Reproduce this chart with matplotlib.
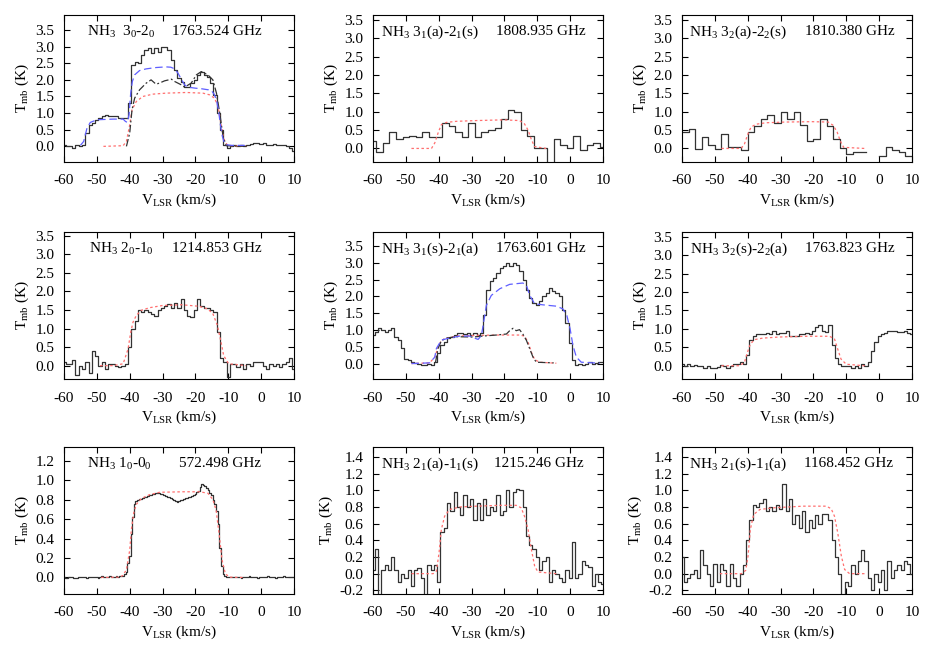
import numpy as np
import matplotlib
matplotlib.use('Agg')
import matplotlib.pyplot as plt
from matplotlib.ticker import FormatStrFormatter, MultipleLocator

plt.rcParams['font.family'] = ['Liberation Serif', 'DejaVu Serif']
plt.rcParams['mathtext.fontset'] = 'custom'
plt.rcParams['mathtext.rm'] = 'Liberation Serif'
plt.rcParams['mathtext.it'] = 'Liberation Serif:italic'
plt.rcParams['axes.unicode_minus'] = False
plt.rcParams['font.size'] = 11

# ---------------- observed spectra (channel values) ----------------
# 1 km/s channels, centres -60 ... 10
t_30_20 = [0.03, 0.0, 0.0, -0.05, 0.05, 0.0, 0.05,
           0.4, 0.65, 0.7, 0.8, 0.85, 0.9, 0.95, 0.9, 0.92, 0.9, 0.85, 0.85, 0.85,
           1.3, 2.45, 2.55, 2.5, 2.75, 2.9, 2.95, 2.8, 2.95, 2.85, 3.0, 2.98, 2.9, 2.6, 2.3,
           2.05, 1.95, 1.8, 1.8, 1.9, 2.0, 2.15, 2.25, 2.15, 2.1, 1.9, 1.55, 1.0, 0.5, 0.05,
           -0.05, 0.0, 0.05, 0.0, 0.05, 0.0, 0.05, 0.08, 0.1, 0.1, 0.08, 0.1, 0.05, 0.05,
           0.08, 0.05, 0.03, 0.05, 0.0, -0.05, -0.15]
# 2 km/s channels, centres -60 ... 10
t_31a_21s = [0.2, -0.1, 0.15, 0.45, 0.25, 0.3, 0.35, 0.3, 0.45, 0.3, 0.3, 0.7, 0.6, 0.45,
             0.3, 0.7, 0.3, 0.45, 0.5, 0.55, 0.8, 1.05, 1.0, 0.5, 0.35, 0.0, 0.0, -0.45,
             0.25, 0.1, 0.0, 0.35, -0.05, 0.1, 0.15, 0.05]
# 2 km/s channels, centres -59 ... 9
t_32a_22s = [0.45, 0.52, -0.02, 0.3, 0.1, -0.02, 0.4, 0.05, 0.03, -0.05, 0.45, 0.6, 0.8,
             0.9, 0.7, 1.0, 0.8, 1.0, 0.65, 0.2, 0.25, 0.8, 0.6, 0.25, 0.0, -0.15, -0.1,
             -0.1, np.nan, np.nan, -0.2, 0.05, -0.05, -0.1, -0.2]
t_20_10 = [0.1, 0.05, 0.05, 0.15, -0.25, 0.0, -0.1, 0.1, -0.2, 0.4, 0.25, 0.0, 0.1, -0.1,
           0.05, 0.05, 0.0, -0.05, 0.0,
           0.05, 0.5, 1.0, 1.2, 1.5, 1.45, 1.5, 1.45, 1.4, 1.35, 1.5, 1.55, 1.6, 1.65, 1.55,
           1.7, 1.55, 1.8, 1.5, 1.35, 1.3, 1.5, 1.8, 1.6, 1.55, 1.55, 1.5, 1.45, 0.9, 0.2,
           0.1, -0.3,
           0.05, 0.05, -0.05, 0.05, -0.1, 0.05, 0.0, 0.1, 0.1, 0.1, 0.0, -0.1, 0.05, 0.0,
           0.05, -0.05, 0.05, 0.1, 0.2, -0.1]
t_31s_21a = [0.85, 0.95, 1.05, 1.0, 0.95, 1.0, 1.05, 0.8, 0.7, 0.45, 0.15, 0.1,
             0.05, 0.02, 0.0, -0.05, -0.03, 0.0, -0.05, 0.05,
             0.3, 0.55, 0.65, 0.75, 0.78, 0.85, 0.9, 0.9, 0.88, 0.9, 0.85, 0.9, 0.85, 0.9,
             1.45, 2.2, 2.45, 2.55, 2.7, 2.85, 2.9, 3.0, 2.9, 3.0, 2.95, 2.75, 2.5, 2.2,
             1.95, 1.8, 1.75, 1.85, 2.0, 2.1, 2.25, 2.15, 2.1, 2.0, 1.6, 1.2,
             0.6, 0.1, -0.05, 0.0, -0.05, 0.0, 0.05, 0.0, 0.03, 0.05, 0.05]
t_32s_22a = [0.05, 0.0, 0.05, 0.0, 0.03, -0.02, 0.0, -0.05, 0.0, -0.05, -0.05, -0.03, 0.03,
             0.0, -0.05, 0.0, 0.05, 0.05, 0.1,
             0.05, 0.3, 0.7, 0.82, 0.85, 0.85, 0.87, 0.9, 0.85, 0.95, 0.85, 0.9, 0.88, 0.95,
             0.8, 0.82, 0.8, 0.85, 0.85, 0.9, 0.85, 0.95, 1.05, 1.1, 0.95, 0.92, 1.1, 0.55,
             0.2, 0.05, 0.0, 0.0, 0.0, -0.05, 0.0, -0.05, 0.05, -0.02, 0.1, 0.4, 0.65, 0.8,
             0.85, 0.9, 0.95, 0.95, 0.93, 0.92, 0.92, 0.95, 0.88, 0.85]
# 0.5 km/s channels, centres -60 ... 10
t_10_00 = [0.0, -0.005, -0.01, 0.0, 0.005, 0.0, -0.005, -0.01, -0.005, 0.0, 0.005, 0.0,
           0.005, 0.0, -0.005, 0.0, 0.005, 0.0, 0.0, 0.005, 0.0, -0.005, 0.005, 0.01, 0.005,
           0.0, 0.005, 0.0, 0.01, 0.005, 0.0, 0.005, 0.01, 0.005,
           0.01, 0.015, 0.02, 0.04, 0.06, 0.15, 0.22, 0.45, 0.62, 0.75, 0.79, 0.8, 0.81,
           0.81, 0.82, 0.83, 0.83, 0.84, 0.85, 0.85, 0.86, 0.86, 0.87, 0.87, 0.87, 0.86,
           0.86, 0.85, 0.84, 0.83, 0.83, 0.82, 0.81, 0.8, 0.79, 0.78, 0.79, 0.8, 0.8, 0.81,
           0.82, 0.82, 0.83, 0.83, 0.84, 0.85, 0.86, 0.88, 0.89, 0.93, 0.96, 0.95, 0.94,
           0.92, 0.9, 0.87, 0.85, 0.8, 0.75, 0.68, 0.55, 0.3, 0.12, 0.04, 0.01,
           0.005, 0.0, 0.005, 0.0, 0.005, 0.0, 0.0, 0.005, 0.0, -0.005, 0.0, 0.005, 0.0,
           0.005, 0.01, 0.005, 0.0, 0.005, 0.0, -0.005, 0.0, 0.005, 0.0, 0.005, 0.0, 0.01,
           0.005, 0.0, 0.005, 0.0, -0.005, 0.0, 0.005, 0.0, 0.005, 0.01, 0.005, 0.0, 0.005,
           0.0, 0.005, 0.0]
t_21a_11s = [0.05, 0.3, -0.3, 0.05, 0.1, 0.05, 0.2, 0.05, -0.1, 0.0, -0.05, 0.05, -0.15,
             0.05, 0.07, -0.05, -0.3, 0.1, 0.05, 0.1,
             -0.1, 0.5, 0.55, 0.85, 0.75, 0.98, 0.8, 0.7, 0.95, 0.8, 0.9, 0.65, 0.85, 0.65,
             0.9, 0.7, 0.8, 0.75, 0.95, 0.7, 0.75, 1.0, 0.8, 0.98, 1.02, 1.0, 0.8, 0.45,
             0.35, 0.3, 0.2,
             0.05, 0.15, 0.2, -0.1, 0.05, 0.0, -0.05, -0.1, 0.05, -0.05, 0.38, -0.05, 0.0,
             0.15, 0.1, 0.08, -0.15, 0.0, -0.1, -0.12]
t_21s_11a = [0.2, -0.1, -0.05, 0.0, 0.05, -0.05, 0.28, 0.1, 0.0, -0.15, 0.12, -0.1, 0.12,
             0.05, -0.15, 0.12, -0.05, -0.15, 0.0, 0.1,
             0.4, 0.65, 0.82, 0.8, 0.85, 0.9, 0.75, 0.8, 0.75, 0.82, 0.78, 1.07, 0.75, 0.9,
             0.6, 0.7, 0.55, 0.75, 0.5, 0.65, 0.55, 0.7, 0.6, 0.72, 0.72, 0.65, 0.4, 0.2,
             0.0, -0.3, -0.1,
             -0.15, 0.1, 0.0, 0.15, 0.28, 0.15, -0.05, -0.2, 0.0, -0.1, 0.05, -0.2, 0.15,
             -0.05, 0.05, 0.1, 0.05, 0.15, 0.12, 0.0]

# ---------------- model curves (v, T) ----------------
red_30_v = [-48, -42, -41, -40, -39.3, -38, -36, -33, -29, -22.8, -17.7, -15.7, -14.2,
            -13.1, -12.1, -11.1, -10.1, -4.5]
red_30_t = [0.0, 0.02, 0.15, 0.65, 1.1, 1.35, 1.5, 1.57, 1.6, 1.62, 1.6, 1.55, 1.45,
            1.2, 0.6, 0.15, 0.02, 0.0]
blue_30_v = [-55, -54, -53, -52, -50, -45, -42, -41.3, -40.7, -40.2, -39.7, -39.2, -38.5,
             -37, -35, -32, -29, -27.5, -26.3, -25.3, -24.3, -23.3, -22.3, -20, -18, -16,
             -15, -14.3, -13.6, -13, -12.4, -11.8, -11.2, -10.5, -9, -5]
blue_30_t = [0.03, 0.15, 0.55, 0.72, 0.8, 0.82, 0.82, 0.75, 0.72, 0.95, 1.6, 1.95, 2.15,
             2.28, 2.33, 2.37, 2.39, 2.38, 2.33, 2.2, 2.02, 1.85, 1.78, 1.75, 1.73, 1.7,
             1.66, 1.57, 1.4, 1.1, 0.65, 0.3, 0.1, 0.05, 0.03, 0.03]
blk_30_v = [-41, -40, -39.3, -38.5, -37, -35, -33.5, -32, -31, -29.4, -27.3, -26.3, -24.3,
            -23.3, -21.3, -19.7, -18.2, -16.2, -14.7, -13.6, -12.6, -11.6, -10.6, -4.5]
blk_30_t = [0.0, 0.4, 1.1, 1.45, 1.7, 1.9, 2.0, 1.87, 1.9, 1.97, 2.02, 1.95, 1.85, 1.78,
            1.9, 2.15, 2.25, 2.15, 2.0, 1.6, 1.0, 0.3, 0.02, 0.0]

red_31a_v = [-48.3, -42.2, -41.2, -40.2, -39.2, -37.7, -34.6, -28.6, -20.4, -15.4, -13.9,
             -12.8, -11.8, -10.8, -7.3]
red_31a_t = [0.0, 0.0, 0.15, 0.42, 0.65, 0.71, 0.74, 0.76, 0.78, 0.76, 0.67, 0.5, 0.24,
             0.05, 0.0]
red_32a_v = [-48.0, -42.0, -41.0, -40.0, -39.0, -37.5, -34.5, -28.5, -20.5, -15.5, -14.0,
             -12.8, -11.8, -10.8, -4.5]
red_32a_t = [0.0, 0.0, 0.12, 0.38, 0.58, 0.66, 0.7, 0.72, 0.73, 0.72, 0.63, 0.45, 0.2,
             0.03, 0.0]
red_20_v = [-49, -45, -42, -40.5, -39.7, -39, -38, -36.5, -34, -30, -24.2, -19, -16.3,
            -14.7, -13.3, -12.2, -11.4, -9.9, -4.6]
red_20_t = [0.0, 0.0, 0.05, 0.45, 0.9, 1.17, 1.35, 1.49, 1.56, 1.62, 1.64, 1.6, 1.53, 1.4,
            1.08, 0.63, 0.27, 0.05, 0.0]
red_31s_v = [-48.3, -42.8, -41.2, -40.2, -39.2, -37.7, -34.6, -28.6, -22.5, -15.4, -13.9,
             -12.8, -11.8, -10.8, -9.3, -4.2]
red_31s_t = [0.0, 0.02, 0.19, 0.49, 0.69, 0.76, 0.82, 0.84, 0.85, 0.85, 0.82, 0.64, 0.34,
             0.12, 0.04, 0.01]
blue_31s_v = [-48.3, -42.8, -41.2, -40.7, -39.2, -36.7, -33.6, -30.6, -28.6, -28.0, -27.0,
              -26.5, -25.5, -24.0, -21.4, -18.4, -14.4, -13.3, -12.3, -10.8, -8.3, -4.2,
              -2.2, -1.0, 0.0, 0.85, 1.9, 3.4, 9.0]
blue_31s_t = [0.0, 0.02, 0.19, 0.45, 0.7, 0.76, 0.82, 0.82, 0.74, 0.72, 0.84, 1.13, 1.73,
              2.03, 2.23, 2.36, 2.4, 2.33, 2.03, 1.78, 1.75, 1.71, 1.63, 1.43, 1.03, 0.54,
              0.19, 0.04, 0.01]
blk_31s_v = [-41, -40.2, -39.2, -37.7, -34.6, -29.6, -26.5, -22.5, -19.4, -18.4, -17.4,
             -16.4, -15.4, -14.4, -13.3, -12.3, -11.3, -10.3, -5]
blk_31s_t = [0.02, 0.45, 0.68, 0.76, 0.8, 0.79, 0.82, 0.85, 0.88, 0.98, 1.05, 0.98, 1.01,
             0.88, 0.69, 0.44, 0.19, 0.04, 0.02]
red_32s_v = [-48, -42.5, -41, -40.1, -39.2, -37.9, -35.4, -30.3, -22.2, -15.1, -13.6,
             -12.6, -11.6, -10, -4.4]
red_32s_t = [0.0, 0.0, 0.09, 0.36, 0.59, 0.71, 0.75, 0.78, 0.8, 0.8, 0.73, 0.45, 0.18,
             0.04, 0.0]
red_10_v = [-48.7, -43.1, -42.1, -41.0, -40.0, -39.5, -38.8, -38.0, -36.5, -34.0, -30.9,
            -23.8, -18.7, -16.2, -14.7, -13.7, -12.7, -11.9, -10.9, -9.7, -5.6]
red_10_t = [0.0, 0.003, 0.02, 0.08, 0.28, 0.49, 0.66, 0.75, 0.81, 0.85, 0.875, 0.88, 0.88,
            0.865, 0.8, 0.69, 0.42, 0.18, 0.04, 0.003, 0.0]
red_21a_v = [-48.3, -41.7, -40.7, -39.9, -39.2, -38.2, -36.7, -33.6, -28.6, -21.5, -16.4,
             -14.9, -13.9, -12.8, -11.8, -10.8, -9.8, -4.2]
red_21a_t = [0.0, 0.0, 0.03, 0.25, 0.53, 0.69, 0.77, 0.8, 0.81, 0.82, 0.82, 0.79, 0.69,
             0.53, 0.29, 0.09, 0.02, 0.0]
red_21s_v = [-48.5, -41.9, -40.6, -39.9, -39.2, -38.2, -36.3, -32.3, -23.2, -16.1, -14.6,
             -13.6, -12.6, -11.5, -10.5, -9.0, -4.0]
red_21s_t = [0.0, 0.0, 0.04, 0.21, 0.53, 0.71, 0.77, 0.79, 0.81, 0.81, 0.78, 0.69, 0.49,
             0.21, 0.05, 0.0, 0.0]

# ---------------- panel descriptions ----------------
names = [r'NH$_3$  3$_0$-2$_0$', r'NH$_3$ 3$_1$(a)-2$_1$(s)', r'NH$_3$ 3$_2$(a)-2$_2$(s)',
         r'NH$_3$ 2$_0$-1$_0$', r'NH$_3$ 3$_1$(s)-2$_1$(a)', r'NH$_3$ 3$_2$(s)-2$_2$(a)',
         r'NH$_3$ 1$_0$-0$_0$', r'NH$_3$ 2$_1$(a)-1$_1$(s)', r'NH$_3$ 2$_1$(s)-1$_1$(a)']
freqs = ['1763.524 GHz', '1808.935 GHz', '1810.380 GHz',
         '1214.853 GHz', '1763.601 GHz', '1763.823 GHz',
         '572.498 GHz', '1215.246 GHz', '1168.452 GHz']
spectra = [t_30_20, t_31a_21s, t_32a_22s, t_20_10, t_31s_21a, t_32s_22a,
           t_10_00, t_21a_11s, t_21s_11a]
v_start = [-60, -60, -59, -60, -60, -60, -60, -60, -60]
v_step = [1, 2, 2, 1, 1, 1, 0.5, 1, 1]
reds = [(red_30_v, red_30_t), (red_31a_v, red_31a_t), (red_32a_v, red_32a_t),
        (red_20_v, red_20_t), (red_31s_v, red_31s_t), (red_32s_v, red_32s_t),
        (red_10_v, red_10_t), (red_21a_v, red_21a_t), (red_21s_v, red_21s_t)]
blues = {0: (blue_30_v, blue_30_t), 4: (blue_31s_v, blue_31s_t)}
blacks = {0: (blk_30_v, blk_30_t), 4: (blk_31s_v, blk_31s_t)}
ylims = [(-0.47, 3.95), (-0.37, 3.64), (-0.37, 3.64),
         (-0.36, 3.6), (-0.46, 3.92), (-0.36, 3.63),
         (-0.17, 1.34), (-0.244, 1.52), (-0.244, 1.52)]
ystep = [0.5] * 6 + [0.2] * 3
name_x = [0.10, 0.035, 0.03, 0.11, 0.035, 0.035, 0.10, 0.035, 0.03]
freq_x = [0.47, 0.533, 0.535, 0.47, 0.533, 0.535, 0.50, 0.526, 0.53]

W, H = 926, 649
fig = plt.figure(figsize=(W / 100, H / 100), dpi=100)
lefts = [64, 373, 682]
tops = [15, 232, 447]
aw, ah = 230, 147

for i in range(9):
    r, c = divmod(i, 3)
    ax = fig.add_axes([lefts[c] / W, 1 - (tops[r] + ah) / H, aw / W, ah / H])
    y = np.array(spectra[i], dtype=float)
    centres = v_start[i] + v_step[i] * np.arange(len(y))
    edges = np.append(centres - v_step[i] / 2, centres[-1] + v_step[i] / 2)
    ax.step(edges, np.append(y, y[-1]), where='post', color='#333333', lw=0.9)
    ax.plot(reds[i][0], reds[i][1], color='#ff6f6f', lw=0.9, ls=(0, (2, 2)))
    if i in blues:
        ax.plot(blacks[i][0], blacks[i][1], color='#333333', lw=0.9, ls=(0, (6, 2, 1.5, 2)))
        ax.plot(blues[i][0], blues[i][1], color='#5f5fff', lw=0.9, ls=(0, (6, 3)))
    ax.set_xlim(-60, 10)
    ax.set_ylim(*ylims[i])
    ax.xaxis.set_major_locator(MultipleLocator(10))
    ax.yaxis.set_major_locator(MultipleLocator(ystep[i]))
    ax.yaxis.set_major_formatter(FormatStrFormatter('%.1f'))
    ax.tick_params(direction='in', top=True, right=True, length=4, width=0.8,
                   labelsize=11)
    ax.tick_params(axis='x', pad=9)
    ax.tick_params(axis='y', pad=7)
    for s in ax.spines.values():
        s.set_linewidth(0.8)
    ax.set_xlabel(r'V$_{\rm LSR}$ (km/s)', fontsize=11, labelpad=3)
    ax.set_ylabel(r'T$_{\rm mb}$ (K)', fontsize=11, labelpad=3)
    ax.text(name_x[i], 0.885, names[i], transform=ax.transAxes, va='center', fontsize=11)
    ax.text(freq_x[i], 0.885, freqs[i], transform=ax.transAxes, va='center', fontsize=11)

fig.savefig('out.png', dpi=100)
